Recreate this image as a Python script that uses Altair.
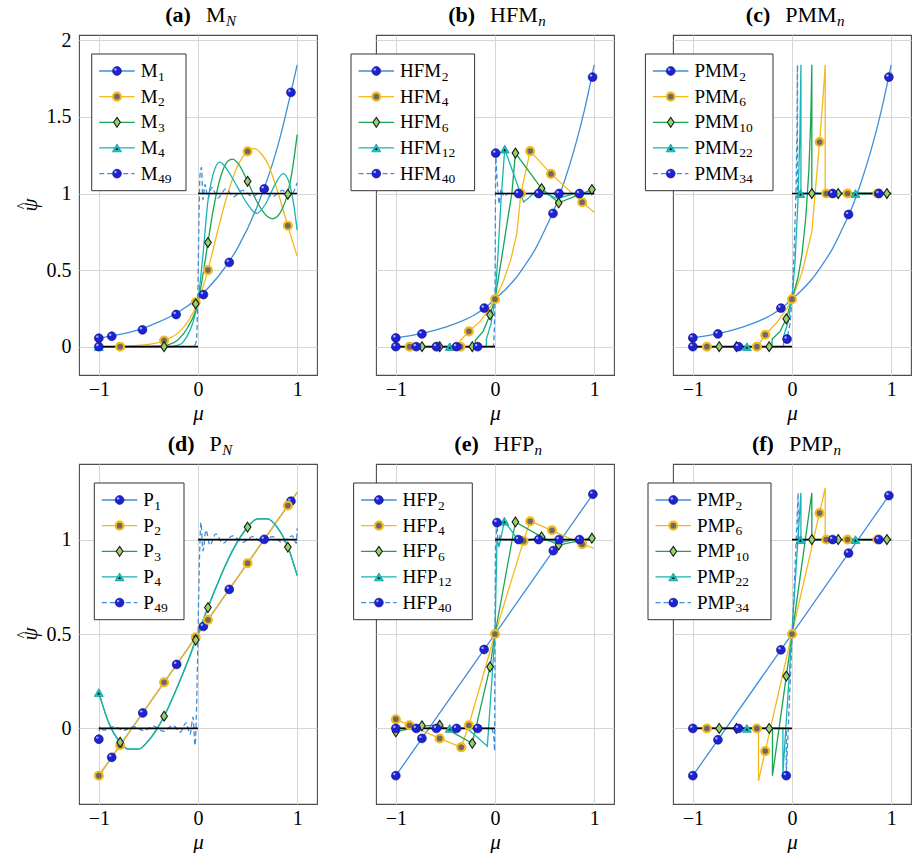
import altair as alt
import pandas as pd

SERIF = "Liberation Serif"

# ---------------- (a) M_N ----------------
a1_mu = [-1, -0.8, -0.6, -0.4, -0.2, 0, 0.2, 0.4, 0.6, 0.8, 1]
a1_psi = [0.055, 0.078, 0.11, 0.16, 0.225, 0.32, 0.455, 0.645, 0.92, 1.3, 1.84]
a1_mk_mu = [-1, -0.87, -0.56, -0.22, 0.055, 0.315, 0.668, 0.937]
a1_mk_psi = [0.055, 0.068, 0.11, 0.21, 0.34, 0.55, 1.03, 1.66]

a2_mu = [-1, -0.8, -0.6, -0.5, -0.4, -0.3, -0.2, -0.1, 0, 0.1, 0.2, 0.3, 0.4, 0.5, 0.56, 0.65, 0.7, 0.8, 0.9, 1]
a2_psi = [0, 0.002, 0.008, 0.015, 0.027, 0.05, 0.09, 0.165, 0.29, 0.5, 0.76, 1.0, 1.18, 1.275, 1.295, 1.25, 1.2, 1.02, 0.8, 0.59]
a2_mk_mu = [-0.785, -0.342, -0.023, 0.1, 0.5, 0.906]
a2_mk_psi = [0, 0.04, 0.29, 0.5, 1.275, 0.79]

a3_mu = [-1, -0.6, -0.4, -0.3, -0.2, -0.1, 0, 0.05, 0.1, 0.15, 0.2, 0.25, 0.3, 0.35, 0.4, 0.5, 0.6, 0.7, 0.75, 0.8, 0.85, 0.9, 0.95, 1]
a3_psi = [0, 0, 0.003, 0.012, 0.045, 0.13, 0.29, 0.47, 0.68, 0.88, 1.04, 1.15, 1.21, 1.225, 1.2, 1.08, 0.94, 0.85, 0.835, 0.85, 0.9, 0.99, 1.15, 1.385]
a3_mk_mu = [-0.342, -0.023, 0.1, 0.5, 0.906]
a3_mk_psi = [0, 0.28, 0.68, 1.08, 0.995]

a4_mu = [-1, -0.3, -0.2, -0.15, -0.1, -0.05, 0, 0.05, 0.1, 0.15, 0.22, 0.3, 0.4, 0.5, 0.59, 0.68, 0.77, 0.86, 0.92, 0.96, 1]
a4_psi = [0, 0, 0.01, 0.03, 0.08, 0.16, 0.3, 0.6, 0.95, 1.12, 1.205, 1.15, 1.04, 0.93, 0.87, 0.93, 1.05, 1.13, 1.07, 0.95, 0.76]
a4_mk_mu = [-1]
a4_mk_psi = [0]

a5_mu = [-1, -0.6, -0.3, -0.1, -0.04, -0.02, -0.01, 0, 0.01, 0.02, 0.035, 0.05, 0.07, 0.1, 0.14, 0.2, 0.28, 0.36, 0.45, 0.55, 0.65, 0.75, 0.85, 0.93, 0.97, 1]
a5_psi = [0, 0, 0, 0, 0.005, 0.03, 0.12, 0.4, 0.85, 1.12, 1.17, 0.96, 1.06, 0.97, 1.04, 0.97, 1.03, 0.98, 1.02, 0.98, 1.02, 0.98, 1.02, 0.985, 1.02, 1.07]
a5_mk_mu = [-1]
a5_mk_psi = [0]

# ---------------- (b) HFM_n ----------------
b1_mu = [-1, -0.8, -0.6, -0.4, -0.2, -0.1, 0, 0.1, 0.2, 0.3, 0.4, 0.5, 0.6, 0.7, 0.8, 0.9, 1]
b1_psi = [0.057, 0.078, 0.108, 0.15, 0.21, 0.255, 0.31, 0.37, 0.44, 0.53, 0.63, 0.76, 0.9, 1.08, 1.29, 1.54, 1.84]
b1_mk_mu = [-1, -0.737, -0.108, 0.585, 0.984]
b1_mk_psi = [0.057, 0.083, 0.252, 0.87, 1.76]

b2_mu = [-1, -0.35, -0.35, -0.263, -0.15, -0.07, 0, 0.08, 0.16, 0.22, 0.25, 0.26, 0.355, 0.565, 0.879, 1]
b2_psi = [0, 0, 0.04, 0.1, 0.165, 0.235, 0.31, 0.42, 0.57, 0.74, 0.93, 1.0, 1.277, 1.128, 0.943, 0.878]
b2_mk_mu = [-0.86, -0.584, -0.348, -0.263, 0, 0.26, 0.355, 0.565, 0.879]
b2_mk_psi = [0, 0, 0, 0.1, 0.31, 1.0, 1.277, 1.128, 0.943]

b3_mu = [-1, -0.2, -0.2, -0.12, -0.05, 0, 0.06, 0.12, 0.17, 0.206, 0.47, 0.642, 0.977, 1]
b3_psi = [0, 0, 0.04, 0.1, 0.208, 0.31, 0.55, 0.8, 1.0, 1.264, 1.032, 0.939, 1.026, 1.03]
b3_mk_mu = [-0.736, -0.557, -0.229, -0.05, 0.206, 0.47, 0.642, 0.977]
b3_mk_psi = [0, 0, 0, 0.208, 1.264, 1.032, 0.939, 1.026]

b4_mu = [-1, -0.087, -0.087, -0.04, 0, 0.03, 0.06, 0.098, 0.288, 0.43, 0.63, 0.8, 1]
b4_psi = [0, 0, 0.05, 0.15, 0.31, 0.6, 0.95, 1.29, 0.945, 1.02, 0.967, 1.0, 1.0]
b4_mk_mu = [-0.456, 0.098]
b4_mk_psi = [0, 1.29]

b5_mu = [-1, -0.015, -0.008, 0, 0.004, 0.007, 0.02, 0.04, 0.06, 0.09, 0.13, 1]
b5_psi = [0, 0, 0.08, 0.31, 0.9, 1.264, 1.1, 0.93, 1.03, 0.98, 1.0, 1.0]
b5_mk_mu = [-1, -0.794, -0.591, -0.388, -0.175, 0.007, 0.237, 0.44, 0.646, 0.852]
b5_mk_psi = [0, 0, 0, 0, 0, 1.264, 1, 1, 1, 1]

# ---------------- (c) PMM_n ----------------
c1_mu = [-1, -0.8, -0.6, -0.4, -0.2, -0.1, 0, 0.1, 0.2, 0.3, 0.4, 0.5, 0.6, 0.7, 0.8, 0.9, 1]
c1_psi = [0.057, 0.078, 0.108, 0.15, 0.21, 0.255, 0.31, 0.37, 0.44, 0.53, 0.63, 0.76, 0.9, 1.08, 1.29, 1.54, 1.84]
c1_mk_mu = [-1, -0.747, -0.112, 0.57, 0.977]
c1_mk_psi = [0.057, 0.083, 0.252, 0.863, 1.76]

c2_mu = [-1, -0.354, -0.34, -0.27, -0.15, -0.05, 0, 0.1, 0.2, 0.278, 0.31, 0.335, 0.335, 1]
c2_psi = [0, 0, 0.01, 0.078, 0.16, 0.25, 0.31, 0.48, 0.75, 1.336, 1.6, 1.84, 1.0, 1.0]
c2_mk_mu = [-0.858, -0.354, -0.27, 0, 0.278, 0.345, 0.56, 0.862]
c2_mk_psi = [0, 0, 0.078, 0.31, 1.336, 1, 1, 1]

c3_mu = [-1, -0.203, -0.2, -0.12, -0.058, 0, 0.06, 0.1, 0.14, 0.17, 0.19, 0.2, 0.2, 1]
c3_psi = [0, 0, 0.05, 0.1, 0.182, 0.31, 0.45, 0.6, 0.85, 1.15, 1.5, 1.84, 1.0, 1.0]
c3_mk_mu = [-0.734, -0.56, -0.23, -0.058, 0.2, 0.466, 0.957]
c3_mk_psi = [0, 0, 0, 0.182, 1, 1, 1]

c4_mu = [-1, -0.085, -0.083, -0.04, 0, 0.03, 0.06, 0.08, 0.09, 0.09, 1]
c4_psi = [0, 0, 0.07, 0.16, 0.31, 0.55, 0.95, 1.4, 1.84, 1.0, 1.0]
c4_mk_mu = [-0.455, 0.085, 0.64]
c4_mk_psi = [0, 1, 1]

c5_mu = [-1, -0.06, -0.05, -0.02, 0, 0.02, 0.04, 0.05, 0.055, 0.055, 1]
c5_psi = [0, 0, 0.05, 0.15, 0.31, 0.6, 1.0, 1.4, 1.84, 1.0, 1.0]
c5_mk_mu = [-1, -0.54, -0.05, 0.41, 0.876]
c5_mk_psi = [0, 0, 0.05, 1, 1]

# ---------------- (d) P_N ----------------
d1_mu = [-1, 1]
d1_psi = [-0.25, 1.25]
d1_mk_mu = [-0.87, -0.557, -0.215, 0.054, 0.315, 0.668, 0.937]
d1_mk_psi = [-0.153, 0.082, 0.339, 0.54, 0.736, 1.001, 1.203]

d2_mu = [-1, 1]
d2_psi = [-0.25, 1.25]
d2_mk_mu = [-1, -0.785, -0.342, -0.023, 0.1, 0.5, 0.906]
d2_mk_psi = [-0.25, -0.089, 0.244, 0.483, 0.575, 0.875, 1.18]

d3_mu = [-1, -0.9, -0.8, -0.7, -0.6, -0.5, -0.4, -0.3, -0.2, -0.1, 0, 0.1, 0.2, 0.3, 0.4, 0.5, 0.6, 0.7, 0.8, 0.9, 1]
d3_psi = [0.19, 0.03, -0.065, -0.11, -0.11, -0.065, 0.01, 0.11, 0.23, 0.36, 0.5, 0.64, 0.77, 0.89, 0.99, 1.065, 1.11, 1.11, 1.065, 0.97, 0.81]
d3_mk_mu = [-0.785, -0.342, -0.023, 0.1, 0.5, 0.906]
d3_mk_psi = [-0.073, 0.065, 0.468, 0.64, 1.066, 0.96]

d4_mu = [-1, -0.9, -0.8, -0.7, -0.6, -0.5, -0.4, -0.3, -0.2, -0.1, 0, 0.1, 0.2, 0.3, 0.4, 0.5, 0.6, 0.7, 0.8, 0.9, 1]
d4_psi = [0.19, 0.03, -0.065, -0.11, -0.11, -0.065, 0.01, 0.11, 0.23, 0.36, 0.5, 0.64, 0.77, 0.89, 0.99, 1.065, 1.11, 1.11, 1.065, 0.97, 0.81]
d4_mk_mu = [-1]
d4_mk_psi = [0.19]

d5_mu = [-1, -0.99, -0.95, -0.85, -0.75, -0.65, -0.55, -0.45, -0.35, -0.25, -0.18, -0.12, -0.08, -0.05, -0.03, -0.015, 0,
         0.015, 0.03, 0.05, 0.08, 0.12, 0.18, 0.25, 0.35, 0.45, 0.55, 0.65, 0.75, 0.85, 0.95, 0.99, 1]
d5_psi = [-0.057, 0.01, -0.01, 0.01, -0.01, 0.01, -0.012, 0.012, -0.015, 0.015, -0.02, 0.03, -0.03, 0.06, -0.09, 0.1, 0.5,
          0.9, 1.09, 0.94, 1.05, 0.97, 1.03, 0.98, 1.02, 0.985, 1.015, 0.985, 1.015, 0.985, 1.02, 0.98, 1.06]
d5_mk_mu = [-1]
d5_mk_psi = [-0.057]

# ---------------- (e) HFP_n ----------------
e1_mu = [-1, 1]
e1_psi = [-0.25, 1.25]
e1_mk_mu = [-1, -0.737, -0.11, 0.588, 0.987]
e1_mk_psi = [-0.25, -0.053, 0.418, 0.941, 1.24]

e2_mu = [-1, -0.862, -0.558, -0.341, -0.264, 0, 0.288, 0.355, 0.575, 0.879, 1]
e2_psi = [0.049, 0.017, -0.053, -0.1, 0.017, 0.5, 0.993, 1.097, 1.049, 0.975, 0.954]
e2_mk_mu = [-1, -0.862, -0.558, -0.341, -0.264, 0, 0.288, 0.355, 0.575, 0.879]
e2_mk_psi = [0.049, 0.017, -0.053, -0.1, 0.017, 0.5, 0.993, 1.097, 1.049, 0.975]

e3_mu = [-1, -0.737, -0.558, -0.229, -0.05, 0, 0.206, 0.47, 0.642, 0.977, 1]
e3_psi = [-0.018, 0.014, 0.017, -0.079, 0.326, 0.5, 1.093, 1.014, 0.971, 1.007, 1.01]
e3_mk_mu = [-1, -0.737, -0.558, -0.229, -0.05, 0.206, 0.47, 0.642, 0.977]
e3_mk_psi = [-0.018, 0.014, 0.017, -0.079, 0.326, 1.093, 1.014, 0.971, 1.007]

e4_mu = [-1, -0.456, -0.28, -0.077, 0, 0.02, 0.04, 0.095, 0.26, 0.43, 0.63, 0.8, 1]
e4_psi = [0, 0, 0, -0.094, 0.5, 1.0, 0.96, 1.097, 0.979, 1.01, 0.98, 1.0, 1.0]
e4_mk_mu = [-0.456, 0.095]
e4_mk_psi = [0, 1.097]

e5_mu = [-1, -0.03, -0.012, -0.004, 0, 0.004, 0.02, 0.03, 0.05, 0.08, 1]
e5_psi = [0, 0, -0.04, -0.12, 0.5, 0.95, 1.09, 0.97, 1.02, 1.0, 1.0]
e5_mk_mu = [-1, -0.794, -0.591, -0.388, -0.175, 0.02, 0.237, 0.44, 0.646, 0.852]
e5_mk_psi = [0, 0, 0, 0, 0, 1.09, 1, 1, 1, 1]

# ---------------- (f) PMP_n ----------------
f1_mu = [-1, 1]
f1_psi = [-0.25, 1.25]
f1_mk_mu = [-1, -0.747, -0.112, 0.57, 0.977]
f1_mk_psi = [-0.25, -0.06, 0.416, 0.928, 1.233]

f2_mu = [-1, -0.338, -0.338, 0.335, 0.335, 1]
f2_psi = [0, 0, -0.277, 1.273, 1.0, 1.0]
f2_mk_mu = [-0.858, -0.354, -0.27, 0, 0.278, 0.345, 0.56, 0.862]
f2_mk_psi = [0, 0, -0.12, 0.5, 1.14, 1, 1, 1]

f3_mu = [-1, -0.197, -0.197, 0.2, 0.2, 1]
f3_psi = [0, 0, -0.25, 1.247, 1.0, 1.0]
f3_mk_mu = [-0.734, -0.56, -0.23, -0.058, 0.2, 0.466, 0.957]
f3_mk_psi = [0, 0, 0, 0.277, 1, 1, 1]

f4_mu = [-1, -0.092, -0.092, 0.09, 0.09, 1]
f4_psi = [0, 0, -0.242, 1.247, 1.0, 1.0]
f4_mk_mu = [-0.455, 0.085, 0.64]
f4_mk_psi = [0, 1, 1]

f5_mu = [-1, -0.058, -0.058, 0.062, 0.062, 1]
f5_psi = [0, 0, -0.25, 1.247, 1.0, 1.0]
f5_mk_mu = [-1, -0.54, -0.058, 0.41, 0.876]
f5_mk_psi = [0, 0, -0.25, 1, 1]

# exact solution: unit step
step_mu = [-1, 0, 0, 1]
step_psi = [0, 0, 1, 1]
step_seg = [0, 0, 1, 1]

# ---------------- styling ----------------
W, H = 238, 340
BLUE = "#3f8fd8"
ORANGE = "#f6b81a"
GREEN = "#17a553"
TEAL = "#16b4b4"

LINE_STYLES = [
    dict(color=BLUE),
    dict(color=ORANGE),
    dict(color=GREEN),
    dict(color=TEAL),
    dict(color=BLUE, strokeDash=[5, 3]),
]
MARKER_KIND = ["ball", "ring", "diamond", "tri", "ball"]

MARKERS = {
    "ball": [dict(shape="circle", filled=True, fill="#1d23d2", stroke="#0a0a78", strokeWidth=0.6, size=78),
             dict(shape="circle", filled=True, fill="#a4aaff", size=6, xOffset=-1.5, yOffset=-1.6)],
    "ring": [dict(shape="circle", filled=True, fill="#6a6a6a", stroke=ORANGE, strokeWidth=2.2, size=62)],
    "diamond": [dict(shape="M0,-1L0.68,0L0,1L-0.68,0Z", filled=True, fill="#96d36a",
                     stroke="#1a1a1a", strokeWidth=1.1, size=96)],
    "tri": [dict(shape="triangle-up", filled=True, fill="#1cc3c3", stroke="#0c9a9a", strokeWidth=0.8, size=80),
            dict(shape="triangle-up", filled=True, fill="#111111", size=9, yOffset=0.8)],
}

# font sizes; name widths (Liberation Serif advance widths, em) used to place subscripts
TICK_FS, LEG_FS, LEG_SUB_FS, TITLE_FS, TITLE_SUB_FS = 20, 19, 13.5, 22, 15
NAME_EM = {"M": 0.889, "HFM": 2.167, "PMM": 2.334, "P": 0.556, "HFP": 1.834, "PMP": 2.001}
SUB_EM = {"N": 0.667, "n": 0.5}
TAG_EM = 1.2

ONE = pd.DataFrame({"k": [0]})


def x_enc():
    return alt.X("mu:Q", scale=alt.Scale(domain=[-1.2, 1.2], nice=False, zero=False),
                 axis=alt.Axis(values=[-1, 0, 1], format="~g", title="μ"))


def y_enc(ydom, yvals, first):
    if first:
        ax = alt.Axis(values=yvals, format="~g", title="")
    else:
        ax = alt.Axis(values=yvals, labels=False, title="")
    return alt.Y("psi:Q", scale=alt.Scale(domain=ydom, nice=False, zero=False), axis=ax)


def point_layers(kind, source, x, y):
    out = []
    for kw in MARKERS[kind]:
        out.append(alt.Chart(source).mark_point(opacity=1, **kw).encode(x=x, y=y))
    return out


def text_at(text, x, y, size, **kw):
    return (alt.Chart(ONE)
            .mark_text(text=text, font=SERIF, fontSize=size, color="black", **kw)
            .encode(x=alt.value(x), y=alt.value(y)))


def panel(tag, name, sub, labels, series, interps, ydom, yvals, first, box_x0, box_x1):
    xe = x_enc()
    ye = y_enc(ydom, yvals, first)
    layers = []
    # curves
    for i, (mu, psi, _, _) in enumerate(series):
        df = pd.DataFrame({"mu": mu, "psi": psi, "i": list(range(len(mu)))})
        layers.append(
            alt.Chart(df).mark_line(strokeWidth=1.3, interpolate=interps[i], clip=True, **LINE_STYLES[i])
            .encode(x=xe, y=ye, order=alt.Order("i:Q"))
        )
    # exact step
    sdf = pd.DataFrame({"mu": step_mu, "psi": step_psi, "seg": step_seg})
    layers.append(alt.Chart(sdf).mark_line(color="black", strokeWidth=1.7)
                  .encode(x=xe, y=ye, detail="seg:N"))
    # markers
    for i, (_, _, mmu, mpsi) in enumerate(series):
        mdf = pd.DataFrame({"mu": mmu, "psi": mpsi})
        layers += point_layers(MARKER_KIND[i], mdf, xe, ye)

    # legend box
    by0, dy = 19, 25.65
    by1 = by0 + 136.7
    layers.append(alt.Chart(ONE).mark_rect(fill="white", stroke="#333333", strokeWidth=1)
                  .encode(x=alt.value(box_x0), x2=alt.value(box_x1), y=alt.value(by0), y2=alt.value(by1)))
    leg_name_w = NAME_EM[name] * LEG_FS
    for i in range(5):
        ry = by0 + 17 + dy * i
        layers.append(alt.Chart(ONE).mark_rule(strokeWidth=1.3, **LINE_STYLES[i])
                      .encode(x=alt.value(box_x0 + 7.5), x2=alt.value(box_x0 + 43), y=alt.value(ry)))
        layers += point_layers(MARKER_KIND[i], ONE, alt.value(box_x0 + 25.3), alt.value(ry))
        tx = box_x0 + 49
        layers.append(text_at(name, tx, ry, LEG_FS, align="left", baseline="middle"))
        layers.append(text_at(labels[i], tx + leg_name_w + 0.5, ry + 5.5, LEG_SUB_FS,
                              align="left", baseline="middle"))

    # panel heading: bold tag, name, italic subscript
    tag_w, gap = TAG_EM * TITLE_FS, 15
    name_w = NAME_EM[name] * TITLE_FS
    sub_w = SUB_EM[sub] * TITLE_SUB_FS
    total = tag_w + gap + name_w + sub_w
    x0 = 121 - total / 2
    ty = -20
    layers.append(text_at(tag, x0 + tag_w, ty, TITLE_FS, fontWeight="bold", align="right", baseline="middle"))
    nx = x0 + tag_w + gap
    layers.append(text_at(name, nx, ty, TITLE_FS, align="left", baseline="middle"))
    layers.append(text_at(sub, nx + name_w + 0.5, ty + 5.5, TITLE_SUB_FS, fontStyle="italic",
                          align="left", baseline="middle"))

    # vertical axis title (psi with a hat), first column only
    if first:
        layers.append(text_at("ψ", -48, H / 2, 21, fontStyle="italic", angle=270,
                              align="center", baseline="middle"))
        layers.append(text_at("^", -56, H / 2 + 1, 14, angle=270, align="center", baseline="middle"))

    return alt.layer(*layers).properties(width=W, height=H)


TOP = [-0.185, 2.035]
TOP_T = [0, 0.5, 1, 1.5, 2]
BOT = [-0.4, 1.4]
BOT_T = [0, 0.5, 1]
SMOOTH = ["monotone"] * 5
LIN = ["linear"] * 5

pa = panel("(a)", "M", "N", ["1", "2", "3", "4", "49"],
           [(a1_mu, a1_psi, a1_mk_mu, a1_mk_psi), (a2_mu, a2_psi, a2_mk_mu, a2_mk_psi),
            (a3_mu, a3_psi, a3_mk_mu, a3_mk_psi), (a4_mu, a4_psi, a4_mk_mu, a4_mk_psi),
            (a5_mu, a5_psi, a5_mk_mu, a5_mk_psi)],
           SMOOTH, TOP, TOP_T, True, 12.7, 107)
pb = panel("(b)", "HFM", "n", ["2", "4", "6", "12", "40"],
           [(b1_mu, b1_psi, b1_mk_mu, b1_mk_psi), (b2_mu, b2_psi, b2_mk_mu, b2_mk_psi),
            (b3_mu, b3_psi, b3_mk_mu, b3_mk_psi), (b4_mu, b4_psi, b4_mk_mu, b4_mk_psi),
            (b5_mu, b5_psi, b5_mk_mu, b5_mk_psi)],
           ["monotone"] + ["linear"] * 4, TOP, TOP_T, False, -25, 98.6)
pc = panel("(c)", "PMM", "n", ["2", "6", "10", "22", "34"],
           [(c1_mu, c1_psi, c1_mk_mu, c1_mk_psi), (c2_mu, c2_psi, c2_mk_mu, c2_mk_psi),
            (c3_mu, c3_psi, c3_mk_mu, c3_mk_psi), (c4_mu, c4_psi, c4_mk_mu, c4_mk_psi),
            (c5_mu, c5_psi, c5_mk_mu, c5_mk_psi)],
           ["monotone"] + ["linear"] * 4, TOP, TOP_T, False, -27.6, 100)
pd_ = panel("(d)", "P", "N", ["1", "2", "3", "4", "49"],
            [(d1_mu, d1_psi, d1_mk_mu, d1_mk_psi), (d2_mu, d2_psi, d2_mk_mu, d2_mk_psi),
             (d3_mu, d3_psi, d3_mk_mu, d3_mk_psi), (d4_mu, d4_psi, d4_mk_mu, d4_mk_psi),
             (d5_mu, d5_psi, d5_mk_mu, d5_mk_psi)],
            ["linear", "linear", "monotone", "monotone", "monotone"], BOT, BOT_T, True, 15.3, 105)
pe = panel("(e)", "HFP", "n", ["2", "4", "6", "12", "40"],
           [(e1_mu, e1_psi, e1_mk_mu, e1_mk_psi), (e2_mu, e2_psi, e2_mk_mu, e2_mk_psi),
            (e3_mu, e3_psi, e3_mk_mu, e3_mk_psi), (e4_mu, e4_psi, e4_mk_mu, e4_mk_psi),
            (e5_mu, e5_psi, e5_mk_mu, e5_mk_psi)],
           LIN, BOT, BOT_T, False, -22.4, 96.3)
pf = panel("(f)", "PMP", "n", ["2", "6", "10", "22", "34"],
           [(f1_mu, f1_psi, f1_mk_mu, f1_mk_psi), (f2_mu, f2_psi, f2_mk_mu, f2_mk_psi),
            (f3_mu, f3_psi, f3_mk_mu, f3_mk_psi), (f4_mu, f4_psi, f4_mk_mu, f4_mk_psi),
            (f5_mu, f5_psi, f5_mk_mu, f5_mk_psi)],
           LIN, BOT, BOT_T, False, -25, 98)

chart = (
    alt.concat(pa, pb, pc, pd_, pe, pf, columns=3, spacing={"row": 89, "column": 59}, bounds="flush")
    .properties(padding={"left": 15, "top": 3, "right": 0, "bottom": 0}, background="white")
    .configure_view(stroke="#4d4d4d", strokeWidth=1.1)
    .configure_axis(grid=True, gridColor="#d6d6d6", gridWidth=1, domain=False, ticks=False,
                    labelFont=SERIF, labelFontSize=TICK_FS, labelColor="black",
                    titleFont=SERIF, titleFontSize=21, titleFontStyle="italic",
                    titleFontWeight="normal", titleColor="black")
    .configure_axisX(labelPadding=4, titlePadding=3)
    .configure_axisY(labelPadding=8, titlePadding=8)
)

chart.save("out.html", embed_options={"renderer": "svg", "actions": False})
